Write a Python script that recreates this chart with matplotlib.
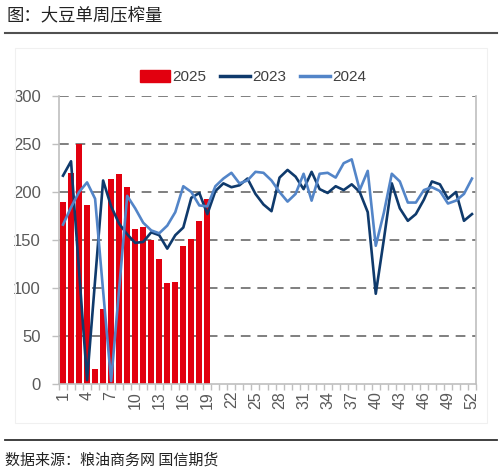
import numpy as np
import matplotlib
matplotlib.use("Agg")
import matplotlib.pyplot as plt
from matplotlib.patches import Patch, Rectangle
from matplotlib.lines import Line2D

# 周数
weeks = np.arange(1, 53)

# 2025 年（柱状，仅到第 19 周）
crush_2025 = [190, 220, 250, 186, 16, 78, 214, 219, 205, 161,
              164, 150, 130, 105, 106, 144, 151, 170, 193]

# 2023 年
crush_2023 = [217, 232, 118, 4, 108, 212, 185, 167, 156, 147,
              148, 158, 155, 141, 155, 163, 194, 199, 177, 201,
              209, 205, 207, 214, 198, 187, 180, 215, 223, 216,
              203, 221, 203, 199, 206, 202, 208, 200, 179, 94,
              150, 209, 183, 170, 177, 192, 211, 208, 193, 200,
              170, 177]

# 2024 年
crush_2024 = [166, 184, 200, 210, 193, 97, 3, 99, 196, 183,
              168, 160, 157, 165, 179, 206, 200, 186, 185, 206,
              214, 220, 209, 212, 221, 220, 212, 200, 190, 198,
              219, 191, 219, 220, 215, 230, 234, 202, 222, 144,
              178, 219, 211, 189, 189, 202, 205, 201, 188, 191,
              198, 214]

y_ticks = [0, 50, 100, 150, 200, 250, 300]
x_ticks = list(range(1, 53, 3))

title = "图：大豆单周压榨量"
source = "数据来源：粮油商务网 国信期货"

c_bar = "#E2000F"
c_2023 = "#0F3A6C"
c_2024 = "#5385C8"
c_grid = "#7F7F7F"
c_axis = "#BFBFBF"
c_text = "#595959"

W, H = 503, 473
fig = plt.figure(figsize=(W / 100, H / 100), dpi=100)

# 标题、分隔线、来源
fig.text(7 / W, 1 - 15 / H, title, fontsize=12.5, color="#222222",
         family=["Noto Sans CJK SC", "DejaVu Sans"], ha="left", va="center")
fig.add_artist(Line2D([5 / W, 497 / W], [1 - 33 / H, 1 - 33 / H],
                      color="#505050", lw=1.5, transform=fig.transFigure))
fig.add_artist(Line2D([5 / W, 497 / W], [1 - 440 / H, 1 - 440 / H],
                      color="#303030", lw=1.3, transform=fig.transFigure))
fig.text(5 / W, 1 - 460 / H, source, fontsize=10.8, color="#222222",
         family=["Noto Sans CJK SC", "DejaVu Sans"], ha="left", va="center")

# 图表外框（很淡）
fig.add_artist(Rectangle((15 / W, 1 - 423 / H), 472 / W, 375 / H,
                         fill=False, ec="#F0F0F0", lw=0.8,
                         transform=fig.transFigure))

ax = fig.add_axes([59 / W, 89 / H, 417 / W, 288 / H])

ax.bar(weeks[:len(crush_2025)], crush_2025, width=0.72, color=c_bar, zorder=2)
ax.plot(weeks, crush_2023, color=c_2023, lw=1.9, zorder=3)
ax.plot(weeks, crush_2024, color=c_2024, lw=1.9, zorder=4)

ax.set_xlim(0.5, 52.5)
ax.set_ylim(0, 300)

ax.set_yticks(y_ticks)
ax.set_yticklabels([str(v) for v in y_ticks], family="Liberation Sans",
                   fontsize=12, color=c_text)
ax.set_xticks(x_ticks)
ax.set_xticklabels([str(v) for v in x_ticks], family="Liberation Sans",
                   fontsize=11.5, color=c_text, rotation=90)
ax.set_xticks(np.arange(0.5, 53, 1), minor=True)

ax.tick_params(axis="y", length=5, color=c_axis, width=1, pad=8)
ax.tick_params(axis="x", which="major", length=0, pad=5)
ax.tick_params(axis="x", which="minor", length=4, color=c_axis, width=1)

for y in y_ticks[1:]:
    ax.axhline(y, color=c_grid, lw=1.4, ls=(0, (5, 3.5)), zorder=1)

ax.spines["top"].set_visible(False)
for s in ["left", "right", "bottom"]:
    ax.spines[s].set_color(c_axis)
    ax.spines[s].set_linewidth(1.2)

handles = [Patch(color=c_bar, label="2025"),
           Line2D([], [], color=c_2023, lw=2.5, label="2023"),
           Line2D([], [], color=c_2024, lw=2.5, label="2024")]
fig.legend(handles=handles, loc="center", bbox_to_anchor=(253 / W, 1 - 77 / H),
           ncol=3, frameon=False, handlelength=1.95, handleheight=0.85,
           handletextpad=0.15, columnspacing=0.9,
           prop={"family": "Liberation Sans", "size": 11})
for t in fig.legends[0].get_texts():
    t.set_color("#404040")

fig.savefig("out.png", dpi=100)
